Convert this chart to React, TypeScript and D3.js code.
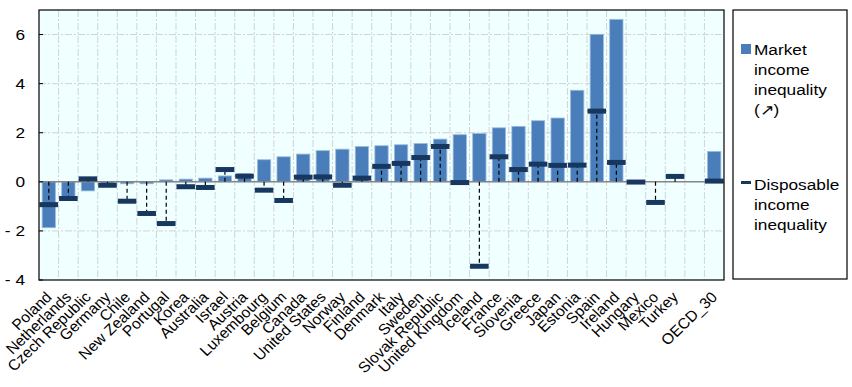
import { useEffect, useRef } from "react";
import * as d3 from "d3";

const categories = [
  "Poland", "Netherlands", "Czech Republic", "Germany", "Chile", "New Zealand",
  "Portugal", "Korea", "Australia", "Israel", "Austria", "Luxembourg", "Belgium",
  "Canada", "United States", "Norway", "Finland", "Denmark", "Italy", "Sweden",
  "Slovak Republic", "United Kingdom", "Iceland", "France", "Slovenia", "Greece",
  "Japan", "Estonia", "Spain", "Ireland", "Hungary", "Mexico", "Turkey", "", "OECD_30",
];

const marketIncome: (number | null)[] = [
  -1.87, -0.6, -0.37, -0.05, -0.08, -0.08, 0.08, 0.11, 0.15, 0.24, 0.33, 0.9, 1.02,
  1.13, 1.27, 1.33, 1.44, 1.47, 1.51, 1.56, 1.74, 1.92, 1.97, 2.2, 2.26, 2.49,
  2.6, 3.73, 6.01, 6.62, null, null, null, null, 1.24,
];

const disposableIncome: (number | null)[] = [
  -0.93, -0.68, 0.12, -0.14, -0.79, -1.29, -1.7, -0.2, -0.23, 0.5, 0.23, -0.34, -0.76,
  0.19, 0.2, -0.14, 0.15, 0.63, 0.75, 0.99, 1.44, -0.03, -3.44, 1.02, 0.5, 0.72,
  0.67, 0.68, 2.88, 0.79, -0.01, -0.84, 0.22, null, 0.03,
];

const yTicks = [-4, -2, 0, 2, 4, 6];

interface Row {
  key: string;
  label: string;
  market: number | null;
  disposable: number | null;
}

const rows: Row[] = categories.map((c, i) => ({
  key: c === "" ? `gap-${i}` : c,
  label: c,
  market: marketIncome[i],
  disposable: disposableIncome[i],
}));

export default function App() {
  const svgRef = useRef<SVGSVGElement>(null);

  useEffect(() => {
    if (!svgRef.current) return;
    const svg = d3.select(svgRef.current);
    svg.selectAll("*").remove();

    const left = 39;
    const right = 724;
    const top = 10;
    const bottom = 280;
    const font = "Liberation Sans, Arial, sans-serif";
    // legend and axis numbers are a little wider than plain Arial
    const stretch = 1.15;

    const x = d3
      .scaleBand<string>()
      .domain(rows.map((d) => d.key))
      .range([left, right])
      .padding(0);

    const y = d3.scaleLinear().domain([-4, 7]).range([bottom, top]);

    const bw = x.bandwidth();
    const barW = bw * 0.68;
    const markW = bw * 0.95;

    // Plot background
    svg
      .append("rect")
      .attr("x", left)
      .attr("y", top)
      .attr("width", right - left)
      .attr("height", bottom - top)
      .attr("fill", "#f0ffff");

    // Grid lines
    const grid = svg.append("g").attr("stroke", "#d3d3d3").attr("stroke-dasharray", "7,2,2,2");
    yTicks
      .filter((t) => t !== 0 && t !== -4)
      .forEach((t) => {
        grid
          .append("line")
          .attr("x1", left)
          .attr("x2", right)
          .attr("y1", y(t))
          .attr("y2", y(t));
      });
    rows.slice(1).forEach((d) => {
      const gx = x(d.key)!;
      grid
        .append("line")
        .attr("x1", gx)
        .attr("x2", gx)
        .attr("y1", top)
        .attr("y2", bottom);
    });

    // Market income bars
    svg
      .append("g")
      .selectAll("rect")
      .data(rows.filter((d) => d.market !== null))
      .join("rect")
      .attr("x", (d) => x(d.key)! + (bw - barW) / 2)
      .attr("y", (d) => y(Math.max(0, d.market!)))
      .attr("width", barW)
      .attr("height", (d) => Math.abs(y(d.market!) - y(0)))
      .attr("fill", "#4a7ebb")
      .attr("stroke", "#9dbbe0")
      .attr("stroke-width", 0.8);

    // Zero line
    svg
      .append("line")
      .attr("x1", left)
      .attr("x2", right)
      .attr("y1", y(0))
      .attr("y2", y(0))
      .attr("stroke", "#868686")
      .attr("stroke-width", 1.5);

    // Dashed connectors
    const dispRows = rows.filter((d) => d.disposable !== null);
    svg
      .append("g")
      .selectAll("line")
      .data(dispRows)
      .join("line")
      .attr("x1", (d) => x(d.key)! + bw / 2)
      .attr("x2", (d) => x(d.key)! + bw / 2)
      .attr("y1", y(0))
      .attr("y2", (d) => y(d.disposable!))
      .attr("stroke", "#000")
      .attr("stroke-width", 1.2)
      .attr("stroke-dasharray", "4,3");

    // Disposable income markers
    svg
      .append("g")
      .selectAll("rect")
      .data(dispRows)
      .join("rect")
      .attr("x", (d) => x(d.key)! + (bw - markW) / 2)
      .attr("y", (d) => y(d.disposable!) - 2.5)
      .attr("width", markW)
      .attr("height", 5)
      .attr("fill", "#17375e");

    // Plot border
    svg
      .append("rect")
      .attr("x", left)
      .attr("y", top)
      .attr("width", right - left)
      .attr("height", bottom - top)
      .attr("fill", "none")
      .attr("stroke", "#000")
      .attr("stroke-width", 1.2);

    // Y axis ticks and labels
    const yAxis = svg.append("g");
    yTicks.forEach((t) => {
      yAxis
        .append("line")
        .attr("x1", left)
        .attr("x2", left + 4)
        .attr("y1", y(t))
        .attr("y2", y(t))
        .attr("stroke", "#000");
      yAxis
        .append("text")
        .attr("transform", `translate(25,${y(t)}) scale(${stretch},1)`)
        .attr("dy", "0.36em")
        .attr("text-anchor", "end")
        .style("font-family", font)
        .style("font-size", "15px")
        .attr("fill", "#000")
        .text(t < 0 ? `- ${Math.abs(t)}` : `${t}`);
    });

    // X labels
    svg
      .append("g")
      .selectAll("text")
      .data(rows.filter((d) => d.label !== ""))
      .join("text")
      .attr(
        "transform",
        (d) => `translate(${x(d.key)! + bw / 2 + 4},${bottom + 18}) scale(1.05,1) rotate(-45)`,
      )
      .attr("text-anchor", "end")
      .style("font-family", font)
      .style("font-size", "15px")
      .attr("fill", "#000")
      .text((d) => d.label);

    // Legend
    const legend = svg.append("g");
    legend
      .append("rect")
      .attr("x", 733)
      .attr("y", 10)
      .attr("width", 114)
      .attr("height", 269)
      .attr("fill", "#fff")
      .attr("stroke", "#000")
      .attr("stroke-width", 1.2);
    legend
      .append("rect")
      .attr("x", 741)
      .attr("y", 44)
      .attr("width", 10)
      .attr("height", 10)
      .attr("fill", "#4a7ebb");
    ["Market", "income", "inequality", "(\u2197)"].forEach((s, i) => {
      legend
        .append("text")
        .attr("transform", `translate(754,${55 + i * 20}) scale(${stretch},1)`)
        .style("font-family", font)
        .style("font-size", "15px")
        .attr("fill", "#000")
        .text(s);
    });
    legend
      .append("rect")
      .attr("x", 741)
      .attr("y", 181)
      .attr("width", 10)
      .attr("height", 3)
      .attr("fill", "#17375e");
    ["Disposable", "income", "inequality"].forEach((s, i) => {
      legend
        .append("text")
        .attr("transform", `translate(754,${190 + i * 20}) scale(${stretch},1)`)
        .style("font-family", font)
        .style("font-size", "15px")
        .attr("fill", "#000")
        .text(s);
    });
  }, []);

  return (
    <svg
      ref={svgRef}
      width={852}
      height={387}
      style={{ position: "absolute", left: 0, top: 0, background: "#fff" }}
    />
  );
}
